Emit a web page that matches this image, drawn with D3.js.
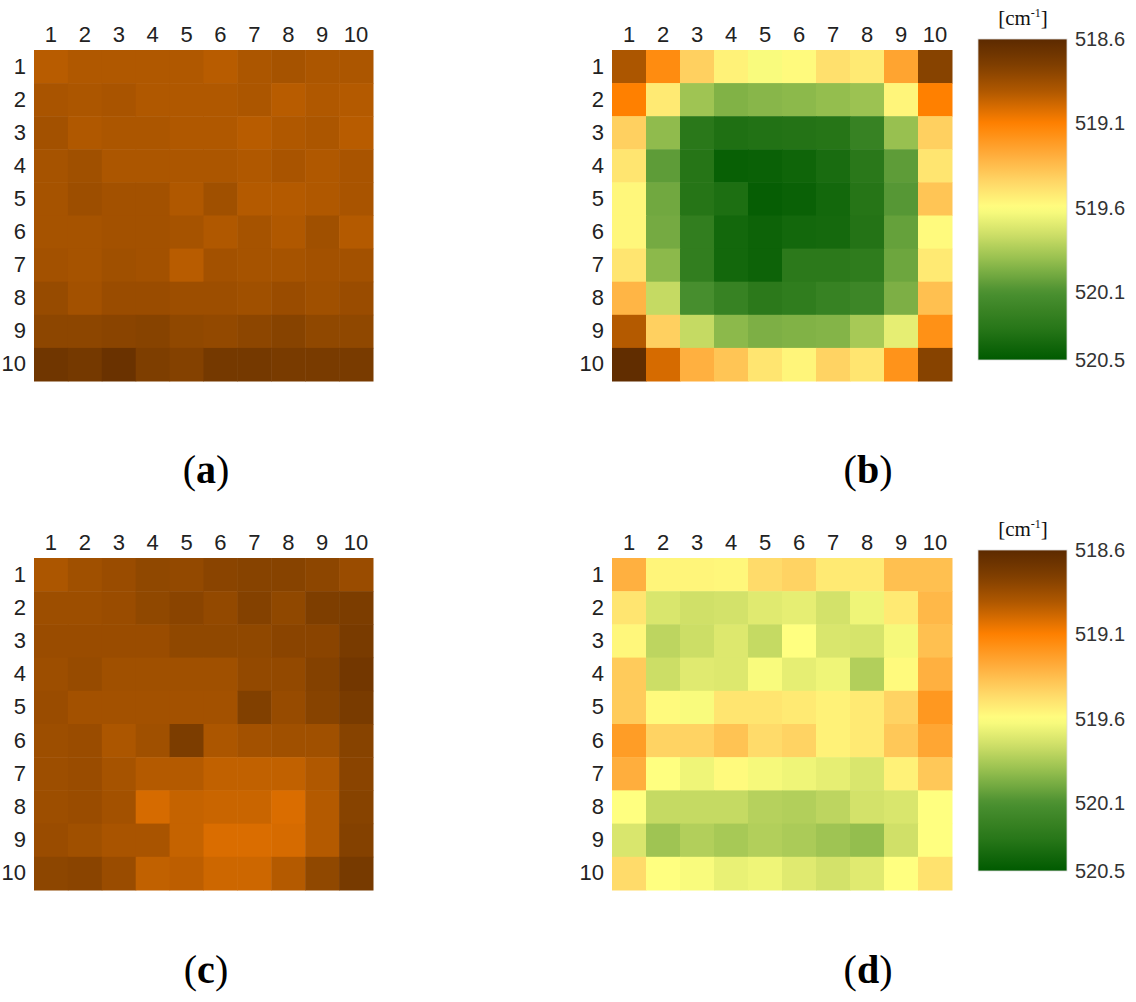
<!DOCTYPE html>
<html><head><meta charset="utf-8">
<script src="https://cdn.jsdelivr.net/npm/d3@7"></script>
<style>body{margin:0;background:#fff}</style>
</head><body>
<script>
const colLabels = ["1","2","3","4","5","6","7","8","9","10"];
const rowLabels = ["1","2","3","4","5","6","7","8","9","10"];
const colorTicks = [518.6, 519.1, 519.6, 520.1, 520.5];
const stopValues = [518.6, 518.75, 518.9, 519.1, 519.3, 519.45, 519.6, 519.75, 519.9, 520.1, 520.3, 520.5];
const stopColors = ["#5c2a00","#7e3e00","#ac5600","#ff8000","#ffb040","#ffd868","#ffff80","#d0e068","#98c050","#4a9030","#2a781a","#005a00"];

const panelA = [
 [518.93,518.91,518.91,518.91,518.91,518.93,518.90,518.88,518.90,518.90],
 [518.89,518.90,518.89,518.91,518.91,518.91,518.90,518.93,518.91,518.92],
 [518.87,518.91,518.90,518.90,518.91,518.91,518.93,518.91,518.90,518.93],
 [518.88,518.86,518.90,518.90,518.90,518.90,518.91,518.89,518.91,518.89],
 [518.88,518.85,518.87,518.87,518.91,518.86,518.92,518.92,518.91,518.89],
 [518.88,518.88,518.87,518.87,518.88,518.91,518.88,518.91,518.86,518.92],
 [518.87,518.88,518.86,518.87,518.93,518.87,518.88,518.88,518.87,518.87],
 [518.83,518.87,518.84,518.84,518.85,518.85,518.86,518.84,518.86,518.84],
 [518.80,518.80,518.79,518.78,518.81,518.82,518.80,518.78,518.81,518.81],
 [518.69,518.71,518.66,518.75,518.77,518.71,518.71,518.73,518.73,518.73]
];
const panelB = [
 [518.90,519.15,519.42,519.55,519.62,519.58,519.48,519.52,519.25,518.78],
 [519.10,519.52,519.88,519.96,519.94,519.93,519.91,519.89,519.56,519.10],
 [519.42,519.92,520.30,520.35,520.34,520.33,520.32,520.22,519.90,519.42],
 [519.50,520.05,520.32,520.46,520.45,520.43,520.38,520.30,520.05,519.50],
 [519.57,520.00,520.32,520.36,520.47,520.45,520.41,520.32,520.07,519.38],
 [519.57,519.99,520.25,520.41,520.44,520.41,520.40,520.33,520.03,519.58],
 [519.50,519.93,520.25,520.41,520.44,520.29,520.29,520.27,520.01,519.52],
 [519.32,519.78,520.12,520.22,520.29,520.26,520.22,520.18,519.97,519.36],
 [518.92,519.42,519.78,519.93,519.97,519.96,519.95,519.86,519.68,519.17],
 [518.62,519.00,519.30,519.38,519.50,519.56,519.43,519.50,519.18,518.78]
];
const panelC = [
 [518.90,518.86,518.84,518.81,518.82,518.79,518.78,518.78,518.80,518.84],
 [518.85,518.85,518.84,518.81,518.79,518.82,518.77,518.81,518.75,518.74],
 [518.84,518.84,518.84,518.84,518.81,518.81,518.81,518.79,518.79,518.73],
 [518.85,518.83,518.86,518.86,518.86,518.86,518.82,518.82,518.77,518.70],
 [518.84,518.87,518.87,518.87,518.87,518.87,518.76,518.83,518.78,518.73],
 [518.85,518.84,518.90,518.86,518.74,518.90,518.87,518.86,518.86,518.78],
 [518.85,518.84,518.88,518.92,518.92,518.95,518.95,518.95,518.91,518.79],
 [518.85,518.84,518.87,519.00,518.96,518.97,518.97,519.01,518.92,518.78],
 [518.84,518.86,518.89,518.89,518.96,519.01,519.01,519.00,518.92,518.77],
 [518.80,518.79,518.84,518.95,518.94,518.98,518.98,518.92,518.81,518.72]
];
const panelD = [
 [519.30,519.56,519.56,519.57,519.46,519.43,519.52,519.52,519.36,519.36],
 [519.50,519.72,519.75,519.74,519.70,519.68,519.74,519.65,519.52,519.33],
 [519.57,519.80,519.76,519.71,519.78,519.60,519.72,519.73,519.63,519.36],
 [519.40,519.76,519.70,519.71,519.62,519.68,519.65,519.83,519.58,519.30],
 [519.40,519.58,519.62,519.50,519.50,519.52,519.55,519.52,519.43,519.20],
 [519.22,519.43,519.43,519.37,519.46,519.43,519.55,519.52,519.39,519.26],
 [519.29,519.60,519.65,519.58,519.63,519.65,519.68,519.72,519.55,519.39],
 [519.60,519.78,519.78,519.78,519.82,519.83,519.80,519.74,519.72,519.60],
 [519.72,519.88,519.83,519.86,519.83,519.85,519.88,519.91,519.75,519.60],
 [519.46,519.60,519.62,519.67,519.65,519.70,519.74,519.70,519.60,519.49]
];
const captions = ["a","b","c","d"];

const W = 1136, H = 1002;
const svg = d3.select("body").append("svg").attr("width", W).attr("height", H);
const color = d3.scaleLinear().domain(stopValues).range(stopColors).interpolate(d3.interpolateRgb).clamp(true);

const panels = [
  {data: panelA, x0: 34, x1: 373, y0: 50, y1: 381, cap: captions[0], cx: 206, cy: 483},
  {data: panelB, x0: 612, x1: 952, y0: 50, y1: 381, cap: captions[1], cx: 868, cy: 483},
  {data: panelC, x0: 34, x1: 373, y0: 558, y1: 890, cap: captions[2], cx: 206, cy: 983},
  {data: panelD, x0: 612, x1: 952, y0: 558, y1: 890, cap: captions[3], cx: 868, cy: 983}
];

panels.forEach(p => {
  const xs = d3.scaleBand().domain(colLabels).range([p.x0, p.x1]);
  const ys = d3.scaleBand().domain(rowLabels).range([p.y0, p.y1]);
  const g = svg.append("g");
  const cells = [];
  p.data.forEach((row, i) => row.forEach((v, j) => cells.push({r: rowLabels[i], c: colLabels[j], v})));
  g.selectAll("rect").data(cells).join("rect")
    .attr("x", d => xs(d.c)).attr("y", d => ys(d.r))
    .attr("width", xs.bandwidth() + 0.5).attr("height", ys.bandwidth() + 0.5)
    .attr("fill", d => color(d.v));
  const ax = g.append("g").attr("transform", `translate(0,${p.y0 - 8})`)
    .call(d3.axisTop(xs).tickSize(0).tickPadding(0));
  ax.select(".domain").remove();
  ax.selectAll("text").attr("font-family", "Liberation Sans, Arial, sans-serif").attr("font-size", 22).attr("fill", "#222");
  const ay = g.append("g").attr("transform", `translate(${p.x0 - 8},0)`)
    .call(d3.axisLeft(ys).tickSize(0).tickPadding(0));
  ay.select(".domain").remove();
  ay.selectAll("text").attr("font-family", "Liberation Sans, Arial, sans-serif").attr("font-size", 22).attr("fill", "#222");
  const t = svg.append("text").attr("x", p.cx).attr("y", p.cy).attr("text-anchor", "middle")
    .attr("font-family", "Liberation Serif, Times New Roman, serif").attr("font-size", 40).attr("fill", "#000");
  t.append("tspan").text("(");
  t.append("tspan").attr("font-weight", "bold").text(p.cap);
  t.append("tspan").text(")");
});

// gradient
const defs = svg.append("defs");
const grad = defs.append("linearGradient").attr("id", "cbgrad").attr("x1", 0).attr("y1", 0).attr("x2", 0).attr("y2", 1);
const gmin = colorTicks[0], gmax = colorTicks[colorTicks.length - 1];
d3.range(0, 1.0001, 0.02).forEach(f => {
  grad.append("stop").attr("offset", f).attr("stop-color", color(gmin + f * (gmax - gmin)));
});

[{y0: 39, y1: 360}, {y0: 550, y1: 871}].forEach(cb => {
  const x0 = 978, x1 = 1067;
  const ys = d3.scaleLinear().domain([gmin, gmax]).range([cb.y0, cb.y1]);
  svg.append("rect").attr("x", x0).attr("y", cb.y0).attr("width", x1 - x0).attr("height", cb.y1 - cb.y0)
    .attr("fill", "url(#cbgrad)").attr("stroke", "#ddd").attr("stroke-width", 0.8);
  const a = svg.append("g").attr("transform", `translate(${x1 + 8},0)`)
    .call(d3.axisRight(ys).tickValues(colorTicks).tickFormat(d3.format(".1f")).tickSize(0).tickPadding(0));
  a.select(".domain").remove();
  a.selectAll("text").attr("font-family", "Liberation Sans, Arial, sans-serif").attr("font-size", 20).attr("fill", "#333");
  const tt = svg.append("text").attr("x", 1023).attr("y", cb.y0 - 14).attr("text-anchor", "middle")
    .attr("font-family", "Liberation Serif, Times New Roman, serif").attr("font-size", 21).attr("fill", "#111");
  tt.append("tspan").text("[cm");
  tt.append("tspan").attr("font-size", 12).attr("dy", -8).text("-1");
  tt.append("tspan").attr("dy", 8).text("]");
});
</script>
</body></html>
